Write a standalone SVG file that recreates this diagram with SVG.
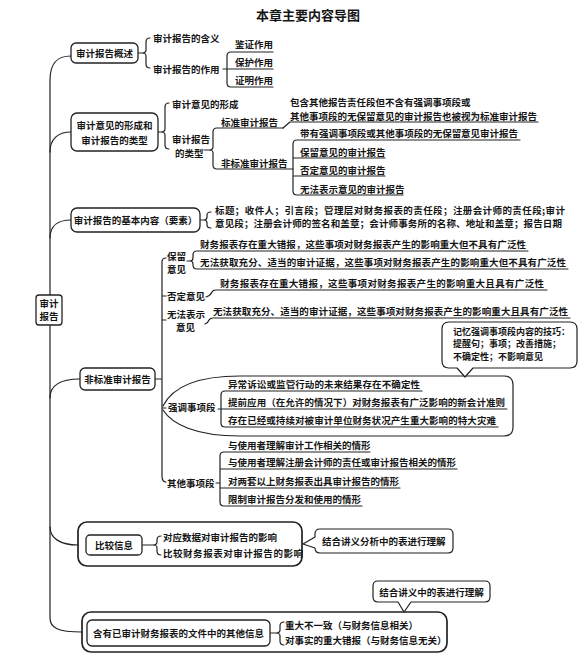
<svg xmlns="http://www.w3.org/2000/svg" width="580" height="663" viewBox="0 0 580 663">
<style>
text { font-family: "Noto Sans CJK SC", "Noto Sans", sans-serif; font-size: 9.5px; font-weight: bold; fill: #151515; }
.ttl { font-size: 13px; }
.m { text-anchor: middle; }
.s9 { font-size: 9px; }
.ln { fill: none; stroke: #222; stroke-width: 1.2; stroke-linecap: round; stroke-linejoin: round; }
.box { fill: #fff; stroke: #222; stroke-width: 1.3; }
.obox { fill: none; stroke: #222; stroke-width: 1.7; }
.call { fill: #fff; stroke: #222; stroke-width: 1.2; stroke-linejoin: round; }
</style>
<rect width="580" height="663" fill="#fff"/>
<text class="ttl m" x="308" y="19.5">本章主要内容导图</text>

<g id="connectors">
  <path class="ln" d="M71,56 C57,56 50,63 50,80 L50,618 C50,628 58,632 82,632"/>
  <path class="ln" d="M50,152 C50,139 58,132 71,132"/>
  <path class="ln" d="M50,238 C50,226 58,220 71,220"/>
  <path class="ln" d="M50,398 C50,386 60,379 80,379"/>
  <path class="ln" d="M50,527 C50,538 60,545 78,545"/>
  <path class="ln" d="M138,53 L142,53 M150,38 Q146,38 146,42 L146,50 Q146,53 142,53 Q146,53 146,56 L146,64 Q146,68 150,68"/>
  <path class="ln" d="M223,69 L273,69 M273,52 L231,52 Q227,52 227,56 L227,83 Q227,87 231,87 L273,87"/>
  <path class="ln" d="M158,132 L161,132 M169,103 Q165,103 165,107 L165,129 Q165,132 161,132 Q165,132 165,135 L165,145 Q165,149 169,149"/>
  <path class="ln" d="M204,150 L209,150 M283,128 L217,128 Q213,128 213,132 L213,147 Q213,150 209,150 Q213,150 213,153 L213,165 Q213,169 217,169 L293,169"/>
  <path class="ln" d="M283,128 L290,122 L538,122"/>
  <path class="ln" d="M520,140 L297,140 Q293,140 293,144 L293,191 Q293,195 297,195 L403,195 M293,158 L385,158 M293,176 L385,176"/>
  <path class="ln" d="M200,220 L204,220 M211,212 Q207,212 207,215 L207,217 Q207,220 204,220 Q207,220 207,223 L207,225 Q207,228 211,228"/>
  <path class="ln" d="M155,379 L162,379 M166,258 Q162,258 162,262 L162,476 Q162,482 166,482 M162,296 L166,296 M162,320 L166,320 M162,408 L166,408"/>
  <path class="ln" d="M187,261 L190,261 M528,251 L197,251 Q193,251 193,255 L193,258 Q193,261 190,261 Q193,261 193,264 L193,265 Q193,269 197,269 L568,269"/>
  <path class="ln" d="M206,297 Q210,296 212,292 Q213,290 216,290 L547,290"/>
  <path class="ln" d="M205,324 Q208,323 209,320 Q210,318 213,318 L570,318"/>
  <path class="ln" d="M163,406 C172,388 195,376 240,376 L504,376 Q513,376 513,385 L513,427 Q513,436 504,436 L240,436 C195,436 172,424 163,410"/>
  <path class="ln" d="M218,409 L221,409 M422,391 L225,391 Q221,391 221,395 L221,423 Q221,427 225,427 L498,427 M221,409 L507,409"/>
  <path class="ln" d="M216,483 L220,483 M370,452 L224,452 Q220,452 220,456 L220,502 Q220,506 224,506 L362,506 M220,469 L457,469 M220,488 L400,488"/>
  <path class="ln" d="M142,545 L153,545 M161,536 Q157,536 157,540 L157,542 Q157,545 153,545 Q157,545 157,548 L157,551 Q157,555 161,555"/>
  <path class="ln" d="M270,633 L276,633 M284,622 Q280,622 280,626 L280,630 Q280,633 276,633 Q280,633 280,636 L280,641 Q280,645 284,645"/>
</g>

<g id="root">
  <rect class="box" x="36" y="295" width="26" height="30" rx="3"/>
  <text class="m" x="49" y="306.5">审计</text>
  <text class="m" x="49" y="320">报告</text>
</g>

<g id="n1">
  <rect class="box" x="71" y="43" width="67" height="20" rx="5"/>
  <text class="m" x="104.5" y="56.5">审计报告概述</text>
  <text x="153" y="41.5">审计报告的含义</text>
  <text x="153" y="72.5">审计报告的作用</text>
  <text x="235" y="47.5">鉴证作用</text>
  <text x="235" y="65.5">保护作用</text>
  <text x="235" y="83.5">证明作用</text>
</g>

<g id="n2">
  <rect class="box" x="71" y="113" width="87" height="38" rx="6"/>
  <text class="m" x="114.5" y="128.5">审计意见的形成和</text>
  <text class="m" x="114.5" y="143.5">审计报告的类型</text>
  <text x="172" y="107.5">审计意见的形成</text>
  <text x="172" y="142.5">审计报告</text>
  <text x="175" y="156.5">的类型</text>
  <text x="221" y="125.5">标准审计报告</text>
  <text x="221" y="166.5">非标准审计报告</text>
  <text x="290" y="106">包含其他报告责任段但不含有强调事项段或</text>
  <text x="290" y="119.5" textLength="247">其他事项段的无保留意见的审计报告也被视为标准审计报告</text>
  <text x="300" y="136.5" textLength="218">带有强调事项段或其他事项段的无保留意见审计报告</text>
  <text x="300" y="155.5">保留意见的审计报告</text>
  <text x="300" y="173.5">否定意见的审计报告</text>
  <text x="300" y="192.5">无法表示意见的审计报告</text>
</g>

<g id="n3">
  <rect class="box" x="71" y="208" width="129" height="24" rx="6"/>
  <text class="m" x="135.5" y="223.5">审计报告的基本内容（要素）</text>
  <text x="215" y="213.5" textLength="350">标题；收件人；引言段；管理层对财务报表的责任段；注册会计师的责任段;审计</text>
  <text x="215" y="226.5" textLength="347">意见段；注册会计师的签名和盖章；会计师事务所的名称、地址和盖章；报告日期</text>
</g>

<g id="n4">
  <rect class="box" x="80" y="368" width="75" height="22" rx="5"/>
  <text class="m" x="117.5" y="382.5">非标准审计报告</text>
  <text x="167" y="259.5">保留</text>
  <text x="167" y="272.5">意见</text>
  <text x="200" y="247.5" textLength="326">财务报表存在重大错报，这些事项对财务报表产生的影响重大但不具有广泛性</text>
  <text x="200" y="265.5" textLength="366">无法获取充分、适当的审计证据，这些事项对财务报表产生的影响重大但不具有广泛性</text>
  <text x="167" y="299.5">否定意见</text>
  <text x="220" y="286.5" textLength="324">财务报表存在重大错报，这些事项对财务报表产生的影响重大且具有广泛性</text>
  <text x="167" y="317.5">无法表示</text>
  <text x="176" y="330.5">意见</text>
  <text x="213" y="314.5" textLength="355">无法获取充分、适当的审计证据，这些事项对财务报表产生的影响重大且具有广泛性</text>
  <text x="168" y="411">强调事项段</text>
  <text x="228" y="388.4" textLength="192">异常诉讼或监管行动的未来结果存在不确定性</text>
  <text x="228" y="406.4" textLength="277">提前应用（在允许的情况下）对财务报表有广泛影响的新会计准则</text>
  <text x="228" y="424.4" textLength="268">存在已经或持续对被审计单位财务状况产生重大影响的特大灾难</text>
  <text x="167" y="486.5">其他事项段</text>
  <text x="228" y="448.5">与使用者理解审计工作相关的情形</text>
  <text x="228" y="466">与使用者理解注册会计师的责任或审计报告相关的情形</text>
  <text x="228" y="485">对两套以上财务报表出具审计报告的情形</text>
  <text x="228" y="503">限制审计报告分发和使用的情形</text>
</g>

<g id="callout1">
  <path class="call" d="M449,322 L570,322 Q577,322 577,329 L577,361 Q577,368 570,368 L473,368 L465,377 L457,368 L449,368 Q442,368 442,361 L442,329 Q442,322 449,322 Z"/>
  <text class="s9" x="453" y="334.5">记忆强调事项段内容的技巧：</text>
  <text class="s9" x="453" y="347">提醒句；事项；改善措施；</text>
  <text class="s9" x="453" y="359.5">不确定性；不影响意见</text>
</g>

<g id="n5">
  <rect class="obox" x="78" y="522" width="224" height="44" rx="9"/>
  <rect class="box" x="86" y="535" width="56" height="20" rx="4"/>
  <text class="m" x="114" y="548.5">比较信息</text>
  <text x="163" y="540.5">对应数据对审计报告的影响</text>
  <text x="163" y="556.5" textLength="140">比较财务报表对审计报告的影响</text>
</g>

<g id="callout2">
  <path class="call" d="M320,529 L448,529 Q453,529 453,534 L453,548 Q453,553 448,553 L320,553 Q315,553 315,548 L303,544 L315,537 L315,534 Q315,529 320,529 Z"/>
  <text x="322" y="544.5">结合讲义分析中的表进行理解</text>
</g>

<g id="n6">
  <rect class="obox" x="82" y="612" width="365" height="40" rx="9"/>
  <rect class="box" x="87" y="620" width="183" height="26" rx="5"/>
  <text class="m" x="178.5" y="636.5">含有已审计财务报表的文件中的其他信息</text>
  <text x="285" y="628.5">重大不一致（与财务信息相关）</text>
  <text x="285" y="643.5">对事实的重大错报（与财务信息无关）</text>
</g>

<g id="callout3">
  <path class="call" d="M378,581 L485,581 Q490,581 490,586 L490,597 Q490,602 485,602 L411,602 L404,612 L398,602 L378,602 Q373,602 373,597 L373,586 Q373,581 378,581 Z"/>
  <text class="m" x="431.5" y="595.5">结合讲义中的表进行理解</text>
</g>
</svg>
